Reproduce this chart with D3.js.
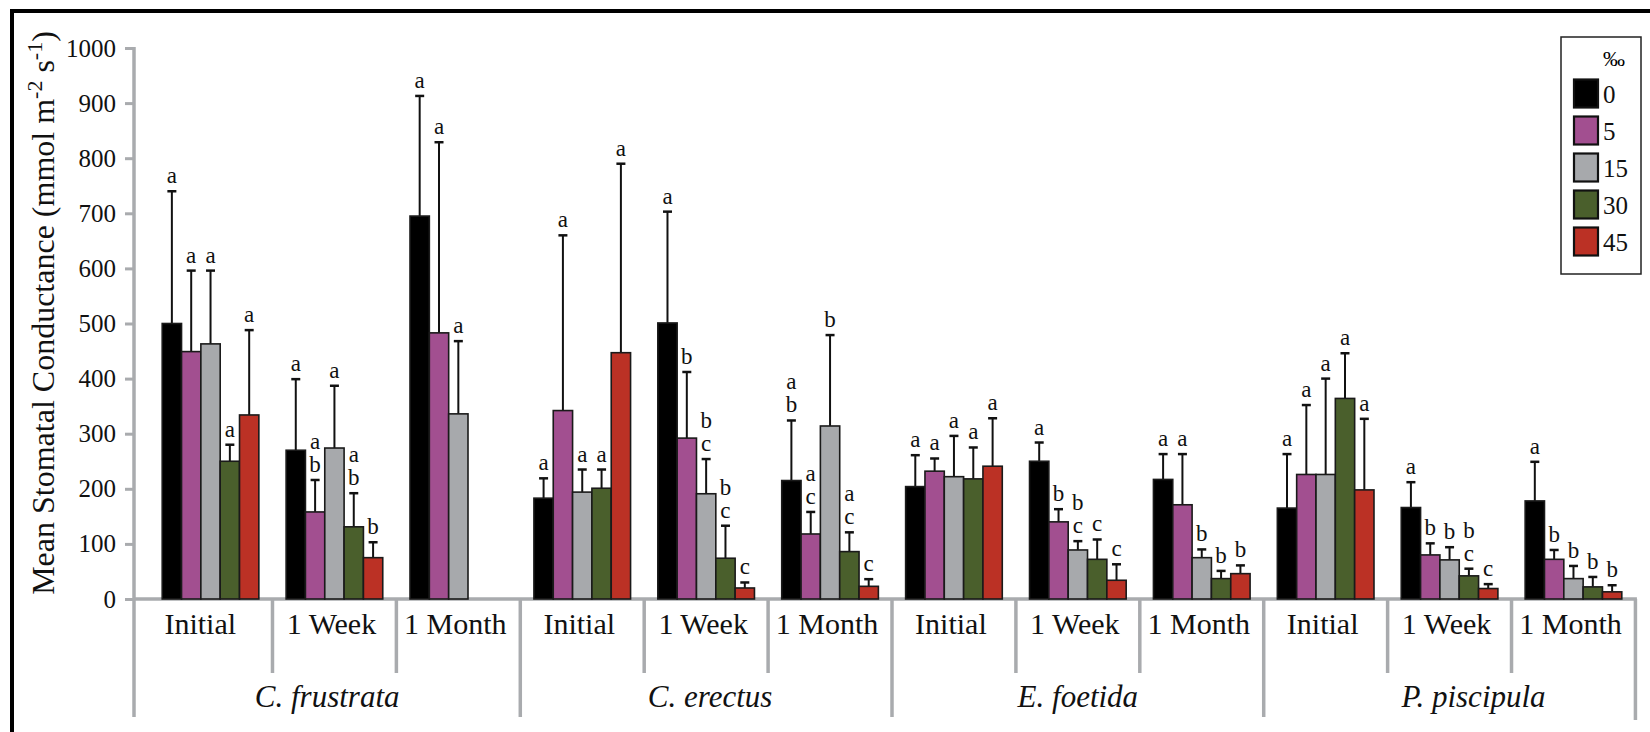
<!DOCTYPE html>
<html>
<head>
<meta charset="utf-8">
<script src="https://cdn.jsdelivr.net/npm/d3@7"></script>
<style>
  body { margin: 0; background: #fff; }
  svg text { font-family: "Liberation Serif", "Times New Roman", Times, "DejaVu Serif", serif !important; }
</style>
</head>
<body>
<svg id="chart"></svg>
<script>
// categories
const species = ['C. frustrata', 'C. erectus', 'E. foetida', 'P. piscipula'];
const times = ['Initial', '1 Week', '1 Month'];
const salinity = ['0', '5', '15', '30', '45'];
const yTicks = [0, 100, 200, 300, 400, 500, 600, 700, 800, 900, 1000];

// means, order: species x time (CF-I, CF-W, CF-M, CE-I, ... PP-M)
const mean0 = [500, 270, 695, 183, 501, 215, 204, 250, 217, 165, 166, 178];
const mean5 = [449, 158, 483, 342, 292, 118, 232, 140, 171, 226, 80, 72];
const mean15 = [463, 274, 336, 194, 191, 314, 222, 89, 75, 226, 71, 37];
const mean30 = [250, 131, null, 201, 74, 86, 218, 72, 37, 364, 42, 22];
const mean45 = [334, 75, null, 447, 20, 23, 241, 34, 46, 198, 19, 13];

// standard errors (upper bar only)
const se0 = [240, 129, 218, 36, 202, 109, 57, 34, 46, 98, 46, 71];
const se5 = [147, 58, 346, 318, 120, 40, 23, 23, 92, 126, 21, 17];
const se15 = [133, 113, 132, 41, 63, 165, 74, 16, 15, 174, 23, 23];
const se30 = [30, 61, null, 34, 59, 35, 57, 36, 14, 82, 13, 18];
const se45 = [154, 28, null, 343, 10, 13, 87, 29, 15, 129, 8, 12];

// significance letters
const sig0 = ['a', 'a', 'a', 'a', 'a', 'ab', 'a', 'a', 'a', 'a', 'a', 'a'];
const sig5 = ['a', 'ab', 'a', 'a', 'b', 'ac', 'a', 'b', 'a', 'a', 'b', 'b'];
const sig15 = ['a', 'a', 'a', 'a', 'bc', 'b', 'a', 'bc', 'b', 'a', 'b', 'b'];
const sig30 = ['a', 'ab', null, 'a', 'bc', 'ac', 'a', 'c', 'b', 'a', 'bc', 'b'];
const sig45 = ['a', 'b', null, 'a', 'c', 'c', 'a', 'c', 'b', 'a', 'c', 'b'];

const colors = ['#000000', '#a24f90', '#a7a9ac', '#4a5f2c', '#bb3125'];

const means = [mean0, mean5, mean15, mean30, mean45];
const ses = [se0, se5, se15, se30, se45];
const sigs = [sig0, sig5, sig15, sig30, sig45];

const W = 1650, H = 732;
const axisX = 134;
const grey = '#a9abae';
const serif = '"Liberation Serif", "Times New Roman", Times, "DejaVu Serif", serif';
const speciesNudge = [0, 4, 0, 24]; // species names sit a little off-centre in the original

// one key per species/time combination
const keys = [];
species.forEach((s) => times.forEach((t) => keys.push(s + '|' + t)));

const bars = [];
keys.forEach((k, i) => {
  salinity.forEach((s, j) => {
    if (means[j][i] == null) return;
    bars.push({ key: k, sal: s, j: j, v: means[j][i], se: ses[j][i], sig: sigs[j][i] });
  });
});

const svg = d3.select('#chart').attr('width', W).attr('height', H)
  .attr('font-family', serif);
svg.append('rect').attr('width', W).attr('height', H).attr('fill', '#fff');

const x0 = d3.scaleBand().domain(keys).range([143, 1641]).paddingInner(0.22).paddingOuter(0.155);
const x1 = d3.scaleBand().domain(salinity).range([0, x0.bandwidth()]);
const y = d3.scaleLinear().domain([0, 1000]).range([599, 48]);

const half = x0.step() * x0.paddingInner() / 2;
// left / right edge of each category segment on the axis
const segL = (i) => (i === 0 ? axisX : x0(keys[i]) - half);
const segR = (i) => x0(keys[i]) + x0.bandwidth() + half;
const xEnd = segR(keys.length - 1);

// outer frame (only top and left show in the picture)
svg.append('path')
  .attr('d', `M12,${H + 5}V11H${W + 5}`)
  .attr('fill', 'none')
  .attr('stroke', '#000')
  .attr('stroke-width', 4);

// y axis
const yAxis = svg.append('g')
  .attr('transform', `translate(${axisX},0)`)
  .call(d3.axisLeft(y).tickValues(yTicks).tickFormat(d3.format('d')).tickSize(9).tickPadding(9));
yAxis.attr('font-family', serif).attr('font-size', 25);
yAxis.select('.domain').remove();
yAxis.selectAll('.tick line').attr('stroke', grey).attr('stroke-width', 3);
yAxis.selectAll('.tick text').attr('fill', '#111');

svg.append('line')
  .attr('x1', axisX).attr('x2', axisX)
  .attr('y1', y(1000) - 1).attr('y2', 717)
  .attr('stroke', grey).attr('stroke-width', 3.5);

// x baseline
svg.append('line')
  .attr('x1', axisX).attr('x2', xEnd + 1.5)
  .attr('y1', y(0)).attr('y2', y(0))
  .attr('stroke', grey).attr('stroke-width', 3.5);

// dividers between time groups (short) and species groups (long)
keys.forEach((k, i) => {
  if (i === 0) return;
  const xd = segL(i);
  svg.append('line')
    .attr('x1', xd).attr('x2', xd)
    .attr('y1', y(0)).attr('y2', i % 3 === 0 ? 717 : 673)
    .attr('stroke', grey).attr('stroke-width', 3.5);
});
svg.append('line')
  .attr('x1', xEnd).attr('x2', xEnd)
  .attr('y1', y(0)).attr('y2', 720)
  .attr('stroke', grey).attr('stroke-width', 3.5);

// category labels
svg.append('g').selectAll('text')
  .data(keys)
  .enter().append('text')
  .attr('x', (d, i) => (segL(i) + segR(i)) / 2 - 3)
  .attr('y', 634)
  .attr('text-anchor', 'middle')
  .attr('font-size', 30)
  .attr('fill', '#111')
  .text((d) => d.split('|')[1]);

svg.append('g').selectAll('text')
  .data(species)
  .enter().append('text')
  .attr('x', (d, i) => (segL(i * 3) + segR(i * 3 + 2)) / 2 + speciesNudge[i])
  .attr('y', 707)
  .attr('text-anchor', 'middle')
  .attr('font-size', 31)
  .attr('font-style', 'italic')
  .attr('fill', '#111')
  .text((d) => d);

// error bars (drawn first so bars sit on top)
const cx = (d) => x0(d.key) + x1(d.sal) + x1.bandwidth() / 2;
const eb = svg.append('g');
eb.selectAll('.err')
  .data(bars)
  .enter().append('line')
  .attr('x1', cx).attr('x2', cx)
  .attr('y1', (d) => y(d.v)).attr('y2', (d) => y(d.v + d.se))
  .attr('stroke', '#111').attr('stroke-width', 2);
eb.selectAll('.cap')
  .data(bars)
  .enter().append('line')
  .attr('x1', (d) => cx(d) - 4.5).attr('x2', (d) => cx(d) + 4.5)
  .attr('y1', (d) => y(d.v + d.se)).attr('y2', (d) => y(d.v + d.se))
  .attr('stroke', '#111').attr('stroke-width', 2.5);

svg.append('g').selectAll('rect')
  .data(bars)
  .enter().append('rect')
  .attr('x', (d) => x0(d.key) + x1(d.sal))
  .attr('y', (d) => y(d.v))
  .attr('width', x1.bandwidth())
  .attr('height', (d) => y(0) - y(d.v))
  .attr('fill', (d) => colors[d.j])
  .attr('stroke', '#1a1a1a')
  .attr('stroke-width', 1.6);

// significance letters, stacked when more than one
const lg = svg.append('g');
bars.forEach((d) => {
  const letters = d.sig.split('');
  const base = y(d.v + d.se) - 8;
  letters.forEach((l, n) => {
    lg.append('text')
      .attr('x', cx(d))
      .attr('y', base - (letters.length - 1 - n) * 23)
      .attr('text-anchor', 'middle')
      .attr('font-size', 23)
      .attr('fill', '#111')
      .text(l);
  });
});

// y title
const title = svg.append('text')
  .attr('transform', 'translate(54,313) rotate(-90)')
  .attr('text-anchor', 'middle')
  .attr('font-size', 32)
  .attr('fill', '#111');
title.append('tspan').text('Mean Stomatal Conductance (mmol m');
title.append('tspan').attr('dy', -12).attr('font-size', 22).text('-2');
title.append('tspan').attr('dy', 12).text(' s');
title.append('tspan').attr('dy', -12).attr('font-size', 22).text('-1');
title.append('tspan').attr('dy', 12).text(')');

// legend
const legend = svg.append('g');
legend.append('rect')
  .attr('x', 1561).attr('y', 37).attr('width', 80).attr('height', 237)
  .attr('fill', '#fff').attr('stroke', '#222').attr('stroke-width', 1.5);
legend.append('text')
  .attr('x', 1614).attr('y', 66)
  .attr('text-anchor', 'middle')
  .attr('font-size', 22)
  .text('‰');
const ly = d3.scaleBand().domain(salinity).range([75, 260]);
salinity.forEach((s, j) => {
  legend.append('rect')
    .attr('x', 1574).attr('y', ly(s) + ly.bandwidth() / 2 - 14)
    .attr('width', 24).attr('height', 28)
    .attr('fill', colors[j]).attr('stroke', '#111').attr('stroke-width', 2.2);
  legend.append('text')
    .attr('x', 1603).attr('y', ly(s) + ly.bandwidth() / 2 + 9)
    .attr('font-size', 25)
    .attr('fill', '#111')
    .text(s);
});
</script>
</body>
</html>
